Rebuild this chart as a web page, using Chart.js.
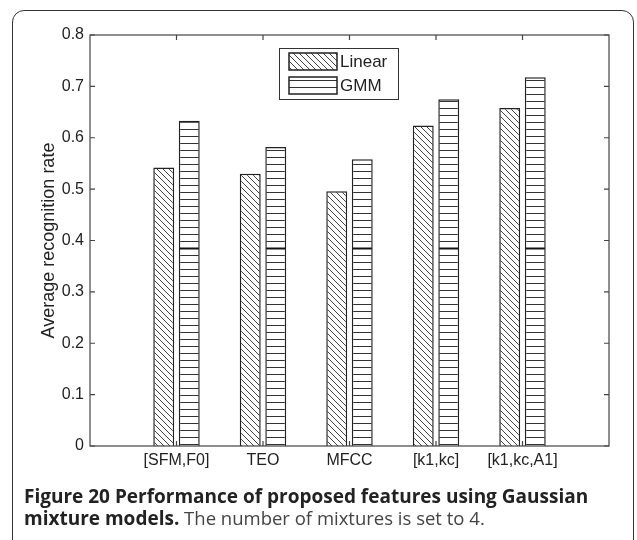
<!DOCTYPE html>
<html>
<head>
<meta charset="utf-8">
<script src="https://cdn.jsdelivr.net/npm/chart.js@4"></script>
<style>
  html, body { margin: 0; padding: 0; background: #fff; }
  body { width: 637px; height: 540px; position: relative; overflow: hidden; }
  #frame {
    position: absolute; left: 12px; top: 10px; width: 622px; height: 580px;
    border: 1.5px solid #333; border-radius: 12px; box-sizing: border-box;
  }
  #wrap { position: absolute; left: 0; top: 0; width: 637px; height: 540px; }
  #caption {
    position: absolute; left: 24px; top: 485px;
    font-family: "Open Sans", sans-serif; font-size: 18.5px; line-height: 21px;
    color: #444; white-space: nowrap;
  }
  #caption b { color: #222; font-weight: 700; font-size: 19px; }
</style>
</head>
<body>
<div id="frame"></div>
<div id="wrap"><canvas id="chart" width="637" height="540"></canvas></div>
<div id="caption"><b>Figure 20 Performance of proposed features using Gaussian</b><br><b>mixture models.</b> The number of mixtures is set to 4.</div>
<script>
// Dati del grafico
const categories = ['[SFM,F0]', 'TEO', 'MFCC', '[k1,kc]', '[k1,kc,A1]'];
const linearValues = [0.542, 0.530, 0.496, 0.624, 0.658];
const gmmValues = [0.633, 0.582, 0.558, 0.675, 0.718];
const seriesNames = ['Linear', 'GMM'];
const yTicks = [0, 0.1, 0.2, 0.3, 0.4, 0.5, 0.6, 0.7, 0.8];
const gmmMarkValue = 0.385;

const canvas = document.getElementById('chart');
const ctx = canvas.getContext('2d');

// Pattern a tratteggio
function diagPattern() {
    const c = document.createElement('canvas');
    c.width = 6; c.height = 6;
    const g = c.getContext('2d');
    g.fillStyle = '#fff';
    g.fillRect(0, 0, 6, 6);
    g.strokeStyle = '#444';
    g.lineWidth = 1;
    g.beginPath();
    g.moveTo(-1, -1); g.lineTo(7, 7);
    g.moveTo(-1, 5); g.lineTo(1, 7);
    g.moveTo(5, -1); g.lineTo(7, 1);
    g.stroke();
    return ctx.createPattern(c, 'repeat');
}

function horizPattern() {
    const c = document.createElement('canvas');
    c.width = 8; c.height = 7;
    const g = c.getContext('2d');
    g.fillStyle = '#fff';
    g.fillRect(0, 0, 8, 7);
    g.strokeStyle = '#333';
    g.lineWidth = 1;
    g.beginPath();
    g.moveTo(0, 3.5); g.lineTo(8, 3.5);
    g.stroke();
    return ctx.createPattern(c, 'repeat');
}

const linearFill = diagPattern();
const gmmFill = horizPattern();

// etichette con posti vuoti ai lati (asse da 0 a 6)
const labels = ['', ...categories, ''];
const pad = arr => [null, ...arr, null];

const tickFont = { family: '"Liberation Sans", Arial, sans-serif', size: 16 };

// Cornice del grafico con tacche interne + legenda
const framePlugin = {
    id: 'frame',
    afterDatasetsDraw(chart) {
        const { ctx, chartArea: a, scales: { x, y } } = chart;
        ctx.save();
        // linea scura sulle barre GMM
        const meta = chart.getDatasetMeta(1);
        const vals = chart.data.datasets[1].data;
        const my = Math.round(y.getPixelForValue(gmmMarkValue)) + 0.5;
        ctx.strokeStyle = '#111';
        ctx.lineWidth = 2;
        meta.data.forEach((bar, i) => {
            if (vals[i] == null) return;
            ctx.beginPath();
            ctx.moveTo(bar.x - bar.width / 2 + 1, my);
            ctx.lineTo(bar.x + bar.width / 2 - 1, my);
            ctx.stroke();
        });

        ctx.strokeStyle = '#444';
        ctx.lineWidth = 1.2;
        ctx.strokeRect(a.left, a.top, a.right - a.left, a.bottom - a.top);
        ctx.beginPath();
        yTicks.forEach(v => {
            const py = y.getPixelForValue(v);
            ctx.moveTo(a.left, py); ctx.lineTo(a.left + 5, py);
            ctx.moveTo(a.right, py); ctx.lineTo(a.right - 5, py);
        });
        categories.forEach((c, i) => {
            const px = x.getPixelForValue(i + 1);
            ctx.moveTo(px, a.bottom); ctx.lineTo(px, a.bottom - 5);
            ctx.moveTo(px, a.top); ctx.lineTo(px, a.top + 5);
        });
        ctx.stroke();

        // legenda
        const lx = 279, ly = 48, lw = 119, lh = 51;
        ctx.fillStyle = '#fff';
        ctx.fillRect(lx, ly, lw, lh);
        ctx.strokeStyle = '#333';
        ctx.lineWidth = 1;
        ctx.strokeRect(lx + 0.5, ly + 0.5, lw, lh);
        const fills = [linearFill, gmmFill];
        seriesNames.forEach((name, i) => {
            const sy = ly + 5 + i * 24;
            ctx.fillStyle = fills[i];
            ctx.fillRect(289, sy, 48, 17);
            ctx.lineWidth = 1.5;
            ctx.strokeStyle = '#222';
            ctx.strokeRect(289, sy, 48, 17);
            ctx.fillStyle = '#222';
            ctx.font = '17px "Liberation Sans", Arial, sans-serif';
            ctx.textBaseline = 'middle';
            ctx.textAlign = 'left';
            ctx.fillText(name, 340, sy + 9);
        });
        ctx.restore();
    }
};

new Chart(ctx, {
    type: 'bar',
    data: {
        labels: labels,
        datasets: [{
            label: seriesNames[0],
            data: pad(linearValues),
            backgroundColor: linearFill,
            borderColor: '#222',
            borderWidth: 1.5
        }, {
            label: seriesNames[1],
            data: pad(gmmValues),
            backgroundColor: gmmFill,
            borderColor: '#222',
            borderWidth: 1.5
        }]
    },
    options: {
        responsive: false,
        animation: false,
        categoryPercentage: 0.59,
        barPercentage: 0.82,
        layout: { padding: { left: 0, top: 35, right: 28, bottom: 63 } },
        plugins: { legend: { display: false }, tooltip: { enabled: false } },
        scales: {
            x: {
                offset: false,
                grid: { display: false, drawTicks: false },
                border: { display: false },
                ticks: { color: '#222', font: tickFont, padding: 5, autoSkip: false, maxRotation: 0 },
                afterFit: s => { s.height = 31; }
            },
            y: {
                min: 0,
                max: 0.8,
                grid: { display: false, drawTicks: false },
                border: { display: false },
                afterBuildTicks: s => { s.ticks = yTicks.map(v => ({ value: v })); },
                ticks: {
                    color: '#222', font: tickFont, padding: 6,
                    callback: v => String(+v.toFixed(1))
                },
                title: {
                    display: true,
                    text: 'Average recognition rate',
                    color: '#222',
                    font: { family: '"Liberation Sans", Arial, sans-serif', size: 18 },
                    padding: { top: 38 }
                },
                afterFit: s => { s.width = 90; }
            }
        }
    },
    plugins: [framePlugin]
});
</script>
</body>
</html>
